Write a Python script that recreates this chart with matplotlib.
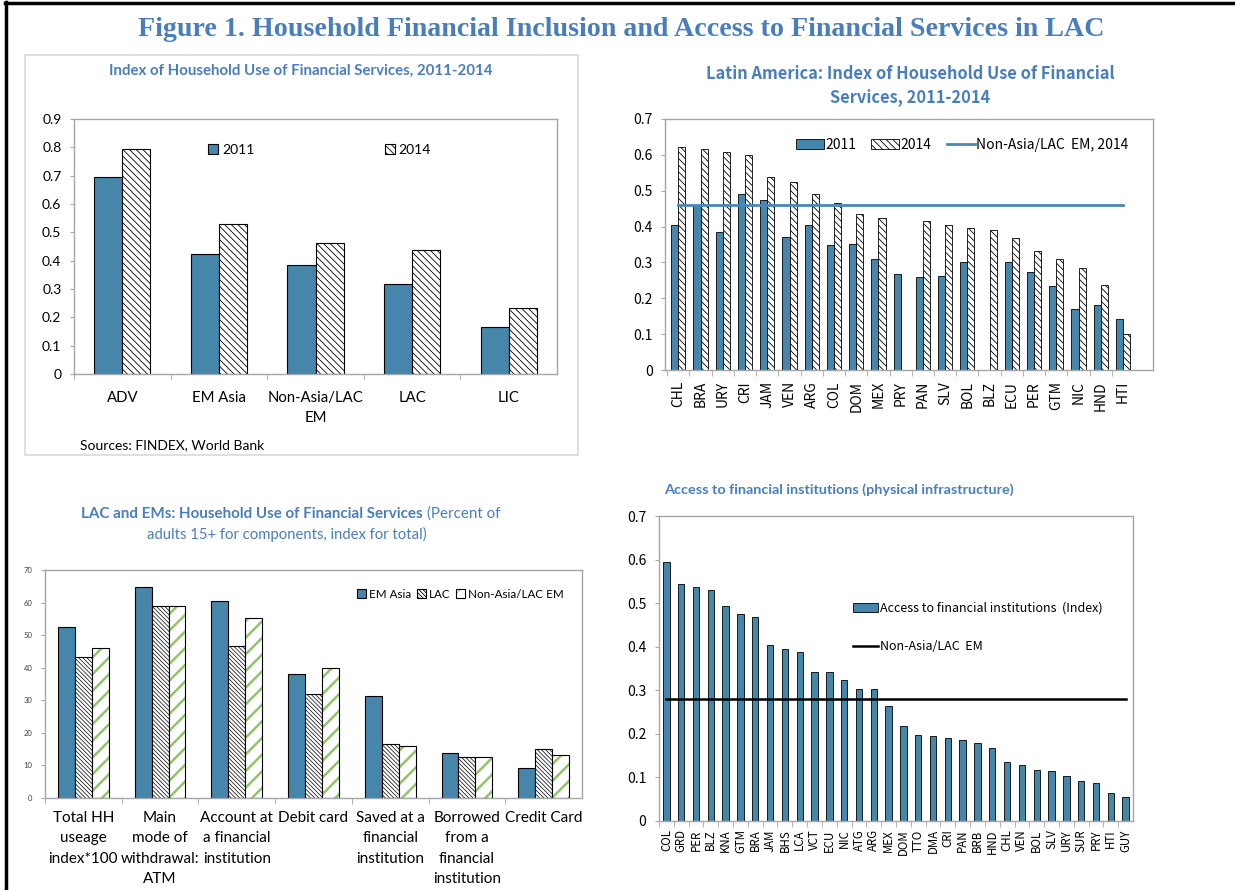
import matplotlib
matplotlib.use('Agg')
import matplotlib.pyplot as plt
import numpy as np
from matplotlib.patches import Rectangle
from matplotlib.lines import Line2D

# ---------------- data ----------------
p1_groups = ['ADV', 'EM Asia', 'Non-Asia/LAC\nEM', 'LAC', 'LIC']
p1_2011 = [0.695, 0.425, 0.385, 0.318, 0.165]
p1_2014 = [0.795, 0.528, 0.462, 0.436, 0.234]

p2_countries = ['CHL', 'BRA', 'URY', 'CRI', 'JAM', 'VEN', 'ARG', 'COL', 'DOM', 'MEX', 'PRY',
                'PAN', 'SLV', 'BOL', 'BLZ', 'ECU', 'PER', 'GTM', 'NIC', 'HND', 'HTI']
p2_2011 = [0.405, 0.46, 0.385, 0.491, 0.474, 0.370, 0.405, 0.349, 0.352, 0.310, 0.269,
           0.260, 0.263, 0.302, np.nan, 0.302, 0.272, 0.234, 0.170, 0.180, 0.142]
p2_2014 = [0.621, 0.615, 0.609, 0.600, 0.539, 0.524, 0.492, 0.467, 0.435, 0.424, np.nan,
           0.416, 0.405, 0.397, 0.390, 0.367, 0.331, 0.310, 0.284, 0.237, 0.100]
p2_benchmark = 0.459

p3_cats = ['Total HH\nuseage\nindex*100', 'Main\nmode of\nwithdrawal:\nATM',
           'Account at\na financial\ninstitution', 'Debit card',
           'Saved at a\nfinancial\ninstitution', 'Borrowed\nfrom a\nfinancial\ninstitution',
           'Credit Card']
p3_emasia = [52.6, 64.7, 60.4, 38.1, 31.4, 13.9, 9.1]
p3_lac = [43.4, 58.8, 46.6, 31.8, 16.7, 12.5, 14.9]
p3_nonasia = [46.0, 58.9, 55.2, 39.9, 16.0, 12.5, 13.1]

p4_countries = ['COL', 'GRD', 'PER', 'BLZ', 'KNA', 'GTM', 'BRA', 'JAM', 'BHS', 'LCA', 'VCT',
                'ECU', 'NIC', 'ATG', 'ARG', 'MEX', 'DOM', 'TTO', 'DMA', 'CRI', 'PAN', 'BRB',
                'HND', 'CHL', 'VEN', 'BOL', 'SLV', 'URY', 'SUR', 'PRY', 'HTI', 'GUY']
p4_values = [0.594, 0.545, 0.537, 0.530, 0.493, 0.475, 0.468, 0.405, 0.394, 0.388, 0.341,
             0.341, 0.324, 0.302, 0.302, 0.264, 0.219, 0.197, 0.195, 0.190, 0.186, 0.179,
             0.167, 0.136, 0.129, 0.117, 0.115, 0.103, 0.091, 0.087, 0.065, 0.054]
p4_benchmark = 0.281

# ---------------- style ----------------
W, H = 1235, 890
BLUE = '#4686AB'
TITLE = '#4A7EBB'
SPINE = '#A6A6A6'
GREEN = '#92C46E'
SANS = ['Lato', 'DejaVu Sans']
KR = ['Noto Sans CJK KR', 'DejaVu Sans']
plt.rcParams['hatch.linewidth'] = 0.6

fig = plt.figure(figsize=(12.35, 8.9), dpi=100)


def axpx(l, t, r, b):
    return fig.add_axes([l / W, 1 - b / H, (r - l) / W, (b - t) / H])


def fx(x):
    return x / W


def fy(y):
    return 1 - y / H


def style_axes(ax, n, labelsize, family, labelcolor='black'):
    for s in ax.spines.values():
        s.set_color(SPINE)
        s.set_linewidth(1.0)
    ax.set_xlim(-0.5, n - 0.5)
    ax.set_xticks(np.arange(n) - 0.5, minor=True)
    ax.tick_params(axis='x', which='minor', length=4, color=SPINE, direction='out')
    ax.tick_params(axis='x', which='major', length=0)
    ax.tick_params(axis='y', length=3, color=SPINE, direction='out', pad=6,
                   labelsize=labelsize, labelcolor=labelcolor)
    for lab in ax.get_yticklabels():
        lab.set_family(family)


# outer border of figure
fig.add_artist(Line2D([fx(6), fx(6)], [fy(2), fy(890)], color='black', lw=2.5))
fig.add_artist(Line2D([fx(5), fx(1235)], [fy(3), fy(3)], color='black', lw=2.5))

fig.text(fx(621), fy(29), 'Figure 1. Household Financial Inclusion and Access to Financial Services in LAC',
         ha='center', va='center', fontsize=20.2, fontweight='bold', color=TITLE,
         family=['Liberation Serif', 'DejaVu Serif'])

# ---------------- panel 1 ----------------
fig.add_artist(Rectangle((fx(25), fy(455)), 553 / W, 400 / H, transform=fig.transFigure,
                         fill=False, edgecolor='#D9D9D9', lw=1.2))
fig.text(fx(301), fy(71), 'Index of Household Use of Financial Services, 2011-2014',
         ha='center', va='center', fontsize=10.8, fontweight='bold', color=TITLE, family=SANS)
ax1 = axpx(74, 119, 557, 374)
x1 = np.arange(len(p1_groups))
w1 = 0.29
b11 = ax1.bar(x1 - w1 / 2, p1_2011, w1, color=BLUE, edgecolor='black', lw=0.8)
b14 = ax1.bar(x1 + w1 / 2, p1_2014, w1, color='white', edgecolor='black', lw=0.8,
              hatch='\\\\\\\\\\')
ax1.set_ylim(0, 0.9)
yt = np.round(np.arange(0, 0.91, 0.1), 1)
ax1.set_yticks(yt)
ax1.set_yticklabels(['0'] + [f'{v:.1f}' for v in yt[1:]])
ax1.set_xticks(x1)
ax1.set_xticklabels(p1_groups, fontsize=10.7, family=SANS, linespacing=1.6)
style_axes(ax1, len(p1_groups), 10, SANS)
ax1.tick_params(axis='x', which='major', pad=12)
ax1.legend([b11, b14], ['2011', '2014'],
           loc='upper left', bbox_to_anchor=(fx(208), fy(144)), bbox_transform=fig.transFigure,
           ncol=2, frameon=False, handlelength=0.7, handleheight=0.7,
           handletextpad=0.3, columnspacing=9.4, borderpad=0, borderaxespad=0,
           prop={'family': SANS, 'size': 10})
fig.text(fx(80), fy(445), 'Sources: FINDEX, World Bank', ha='left', va='center',
         fontsize=10, family=SANS)

# ---------------- panel 2 ----------------
fig.text(fx(910), fy(74), 'Latin America: Index of Household Use of Financial',
         ha='center', va='center', fontsize=11.8, fontweight='bold', color=TITLE, family=KR)
fig.text(fx(910), fy(97), 'Services, 2011-2014',
         ha='center', va='center', fontsize=11.8, fontweight='bold', color=TITLE, family=KR)
ax2 = axpx(665, 119, 1153, 370)
x2 = np.arange(len(p2_countries))
w2 = 0.32
b21 = ax2.bar(x2 - w2 / 2, p2_2011, w2, color=BLUE, edgecolor='black', lw=0.6)
b24 = ax2.bar(x2 + w2 / 2, p2_2014, w2, color='white', edgecolor='black', lw=0.6,
              hatch='\\\\\\\\\\')
l2, = ax2.plot(x2, [p2_benchmark] * len(x2), color='#4A86B8', lw=2)
ax2.set_ylim(0, 0.7)
yt2 = np.round(np.arange(0, 0.71, 0.1), 1)
ax2.set_yticks(yt2)
ax2.set_yticklabels(['0'] + [f'{v:.1f}' for v in yt2[1:]])
ax2.set_xticks(x2)
ax2.set_xticklabels(p2_countries, rotation=90, fontsize=10, family=KR)
style_axes(ax2, len(p2_countries), 10, KR)
ax2.set_xlim(-0.6, 21.35)
ax2.tick_params(axis='x', which='major', pad=8)
ax2.legend([b21, b24, l2], ['2011', '2014', 'Non-Asia/LAC  EM, 2014'],
           loc='upper left', bbox_to_anchor=(fx(796), fy(138)), bbox_transform=fig.transFigure,
           ncol=3, frameon=False, handlelength=2.0, handleheight=0.7,
           handletextpad=0.1, columnspacing=1.1, borderpad=0, borderaxespad=0,
           prop={'family': KR, 'size': 10})

# ---------------- panel 3 ----------------
fig.text(fx(423), fy(514), 'LAC and EMs: Household Use of Financial Services',
         ha='right', va='center', fontsize=10.9, fontweight='bold', color=TITLE, family=SANS)
fig.text(fx(427), fy(514), '(Percent of', ha='left', va='center', fontsize=10.9,
         color=TITLE, family=SANS)
fig.text(fx(287), fy(534), 'adults 15+ for components, index for total)', ha='center',
         va='center', fontsize=10.7, color=TITLE, family=SANS)
ax3 = axpx(45, 570, 582, 798)
x3 = np.arange(len(p3_cats))
w3 = 0.22
b_em = ax3.bar(x3 - w3, p3_emasia, w3, color=BLUE, edgecolor='black', lw=0.8)
with plt.rc_context({'hatch.linewidth': 0.5}):
    b_lac = ax3.bar(x3, p3_lac, w3, color='white', edgecolor='black', lw=0.8,
                    hatch='\\\\\\\\\\\\\\\\')
with plt.rc_context({'hatch.linewidth': 1.8}):
    b_na_fill = ax3.bar(x3 + w3, p3_nonasia, w3, color='white', edgecolor=GREEN, lw=0,
                        hatch='//')
b_na_edge = ax3.bar(x3 + w3, p3_nonasia, w3, fill=False, edgecolor='black', lw=0.8)
ax3.set_ylim(0, 70)
ax3.set_yticks(np.arange(0, 71, 10))
ax3.set_xticks(x3)
ax3.set_xticklabels(p3_cats, fontsize=11, family=SANS, linespacing=1.6, va='top')
style_axes(ax3, len(p3_cats), 5.5, SANS, labelcolor='#404040')
ax3.tick_params(axis='x', which='major', pad=9)
ax3.legend([b_em[0], b_lac[0], (b_na_fill[0], b_na_edge[0])],
           ['EM Asia', 'LAC', 'Non-Asia/LAC EM'],
           loc='upper left', bbox_to_anchor=(fx(357), fy(589)), bbox_transform=fig.transFigure,
           ncol=3, frameon=False, handlelength=0.8, handleheight=0.8,
           handletextpad=0.2, columnspacing=0.5, borderpad=0, borderaxespad=0,
           prop={'family': SANS, 'size': 8.4})

# ---------------- panel 4 ----------------
fig.text(fx(664), fy(490), 'Access to financial institutions (physical infrastructure)',
         ha='left', va='center', fontsize=10.4, fontweight='bold', color=TITLE, family=SANS)
ax4 = axpx(659, 516, 1133, 821)
x4 = np.arange(len(p4_countries))
b4 = ax4.bar(x4, p4_values, 0.43, color=BLUE, edgecolor='black', lw=0.6)
l4, = ax4.plot(x4, [p4_benchmark] * len(x4), color='black', lw=1.8)
ax4.set_ylim(0, 0.7)
yt4 = np.round(np.arange(0, 0.71, 0.1), 1)
ax4.set_yticks(yt4)
ax4.set_yticklabels(['0'] + [f'{v:.1f}' for v in yt4[1:]])
ax4.set_xticks(x4)
ax4.set_xticklabels(p4_countries, rotation=90, fontsize=8.3, family=KR)
style_axes(ax4, len(p4_countries), 10, KR)
ax4.tick_params(axis='x', which='major', pad=6)
ax4.legend([b4, l4], ['Access to financial institutions  (Index)', 'Non-Asia/LAC  EM'],
           loc='upper left', bbox_to_anchor=(fx(853), fy(602)), bbox_transform=fig.transFigure,
           frameon=False, handlelength=2.0, handleheight=0.7, labelspacing=2.0,
           handletextpad=0.2, borderpad=0, borderaxespad=0,
           prop={'family': KR, 'size': 9})

fig.savefig('out.png', dpi=100)
